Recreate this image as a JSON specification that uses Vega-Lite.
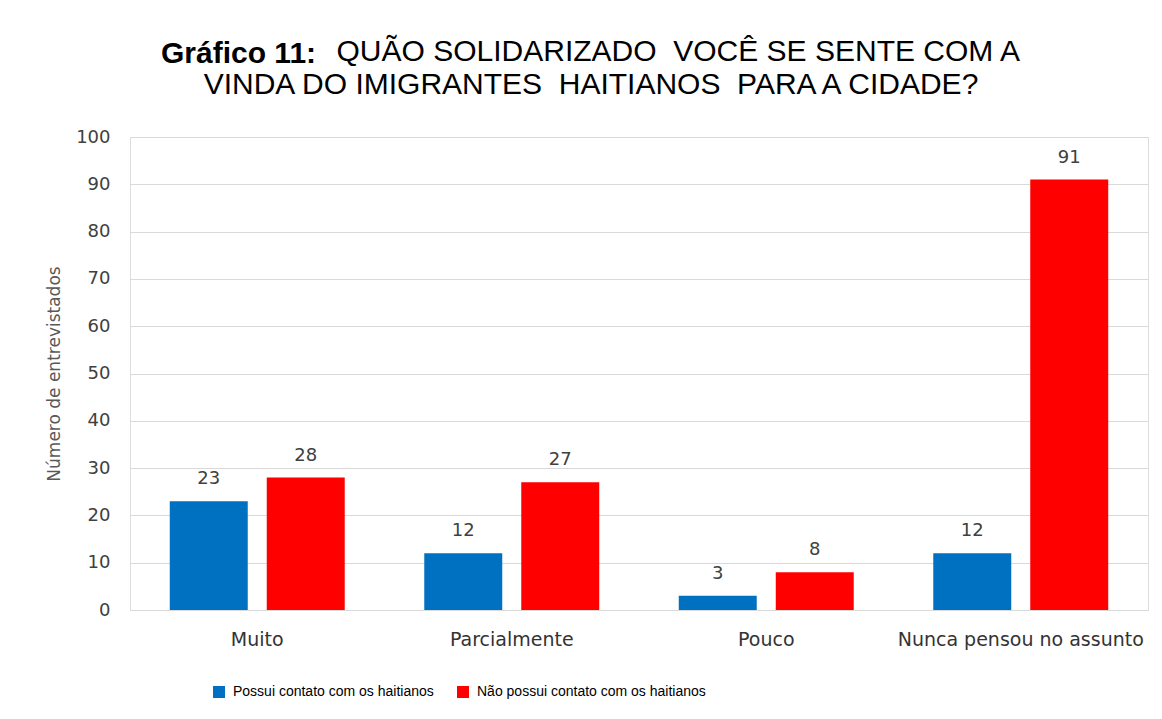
{
  "$schema": "https://vega.github.io/schema/vega-lite/v6.json",
  "padding": {"left": 45, "top": 36, "right": 14, "bottom": 10},
  "background": "white",
  "title": {
    "text": "Gráfico 11:",
    "anchor": "start",
    "frame": "group",
    "dx": 31,
    "offset": -32,
    "font": "Liberation Sans",
    "fontSize": 30,
    "fontWeight": "bold",
    "color": "#000000"
  },
  "vconcat": [
    {
      "width": 1018,
      "height": 473,
      "title": {
        "text": "QUÃO SOLIDARIZADO\u00a0 VOCÊ SE SENTE COM A",
        "subtitle": "VINDA DO IMIGRANTES\u00a0 HAITIANOS\u00a0 PARA A CIDADE?\u00a0\u00a0\u00a0\u00a0\u00a0\u200b",
        "anchor": "end",
        "frame": "group",
        "dx": -128,
        "offset": 28,
        "font": "Liberation Sans",
        "fontSize": 30,
        "fontWeight": "normal",
        "color": "#000000",
        "subtitleFont": "Liberation Sans",
        "subtitleFontSize": 30,
        "subtitleFontWeight": "normal",
        "subtitleColor": "#000000",
        "subtitlePadding": 3
      },
      "data": {
        "values": [
          {"categoria": "Muito", "grupo": "Possui contato com os haitianos", "valor": 23},
          {"categoria": "Muito", "grupo": "Não possui contato com os haitianos", "valor": 28},
          {"categoria": "Parcialmente", "grupo": "Possui contato com os haitianos", "valor": 12},
          {"categoria": "Parcialmente", "grupo": "Não possui contato com os haitianos", "valor": 27},
          {"categoria": "Pouco", "grupo": "Possui contato com os haitianos", "valor": 3},
          {"categoria": "Pouco", "grupo": "Não possui contato com os haitianos", "valor": 8},
          {"categoria": "Nunca pensou no assunto", "grupo": "Possui contato com os haitianos", "valor": 12},
          {"categoria": "Nunca pensou no assunto", "grupo": "Não possui contato com os haitianos", "valor": 91}
        ]
      },
      "encoding": {
        "x": {
          "field": "categoria",
          "type": "nominal",
          "sort": ["Muito", "Parcialmente", "Pouco", "Nunca pensou no assunto"],
          "scale": {"paddingInner": 0, "paddingOuter": 0},
          "axis": {
            "title": null,
            "labelAngle": 0,
            "ticks": false,
            "domainColor": "#d9d9d9",
            "labelFont": "DejaVu Sans",
            "labelFontSize": 19,
            "labelColor": "#333333",
            "labelPadding": 20,
            "labelLimit": 0
          }
        },
        "xOffset": {
          "field": "grupo",
          "type": "nominal",
          "sort": ["Possui contato com os haitianos", "Não possui contato com os haitianos"],
          "scale": {"paddingInner": 0.196, "paddingOuter": 0.41}
        },
        "y": {
          "field": "valor",
          "type": "quantitative",
          "scale": {"domain": [0, 100]},
          "axis": {
            "values": [0, 10, 20, 30, 40, 50, 60, 70, 80, 90, 100],
            "title": "Número de entrevistados",
            "titleFont": "DejaVu Sans",
            "titleFontSize": 17,
            "titleFontWeight": "normal",
            "titleColor": "#595959",
            "titlePadding": 12,
            "domain": false,
            "ticks": false,
            "gridColor": "#d9d9d9",
            "labelFont": "DejaVu Sans",
            "labelFontSize": 18,
            "labelColor": "#404040",
            "labelPadding": 20
          }
        }
      },
      "layer": [
        {
          "mark": {"type": "bar"},
          "encoding": {
            "color": {
              "field": "grupo",
              "type": "nominal",
              "scale": {
                "domain": ["Possui contato com os haitianos", "Não possui contato com os haitianos"],
                "range": ["#0070C0", "#FF0000"]
              },
              "legend": {
                "title": null,
                "orient": "none",
                "legendX": 82,
                "legendY": 548,
                "direction": "horizontal",
                "symbolType": "square",
                "symbolSize": 144,
                "symbolStrokeWidth": 0,
                "symbolOpacity": 1,
                "labelFont": "Liberation Sans",
                "labelFontSize": 14,
                "labelColor": "#000000",
                "labelOffset": 7,
                "columnPadding": 22,
                "labelLimit": 400
              }
            }
          }
        },
        {
          "mark": {"type": "text", "baseline": "bottom", "dy": -13, "font": "DejaVu Sans", "fontSize": 18, "color": "#404040"},
          "encoding": {
            "text": {"field": "valor", "type": "quantitative"}
          }
        }
      ]
    }
  ]
}
